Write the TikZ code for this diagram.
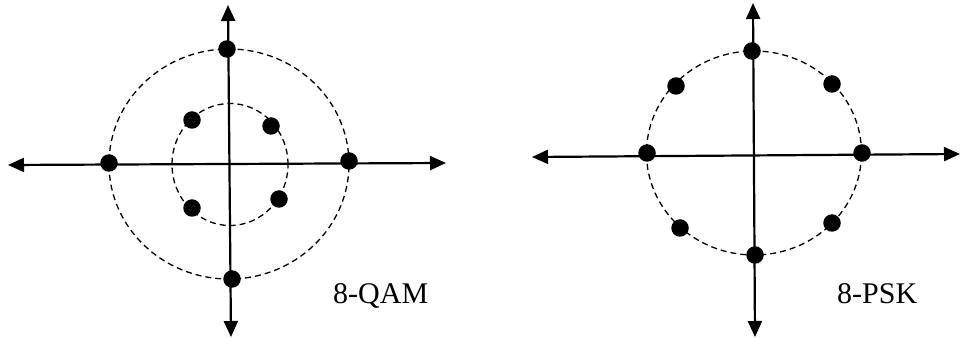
\documentclass[tikz,border=0pt]{standalone}
\usepackage{fontspec}
\setmainfont{Liberation Serif}
\usetikzlibrary{arrows.meta}
\tikzset{
  symbol/.style={circle,fill=black,draw=none,inner sep=0pt,minimum size=17.5bp},
  axis/.style={line width=2.2bp},
  ring/.style={line width=1.3bp,dash pattern=on 6bp off 4bp},
  tag/.style={anchor=base west,inner sep=0pt,font=\fontsize{30bp}{36bp}\selectfont},
}
\begin{document}
\begin{tikzpicture}[>={Triangle[length=16bp,width=14bp]},line join=bevel,]
        \useasboundingbox (0bp,0bp) rectangle (961bp,339bp);
        %% 8-QAM
        \coordinate (qam_top) at (228bp,334bp);
        \coordinate (qam_bot) at (231bp,2bp);
        \coordinate (qam_left) at (8bp,174bp);
        \coordinate (qam_right) at (446bp,176bp);
        \draw [ring] (229bp,175bp) ellipse [x radius=120bp,y radius=115bp];
        \draw [ring] (230bp,174.5bp) ellipse [x radius=58bp,y radius=61bp];
        \draw [axis,<->] (qam_bot) -- (qam_top);
        \draw [axis,<->] (qam_left) -- (qam_right);
        \node (qam_0) at (349bp,178bp) [symbol] {};
        \node (qam_1) at (227bp,290bp) [symbol] {};
        \node (qam_2) at (109bp,176bp) [symbol] {};
        \node (qam_3) at (232bp,60bp) [symbol] {};
        \node (qam_4) at (271bp,213bp) [symbol] {};
        \node (qam_5) at (192bp,219bp) [symbol] {};
        \node (qam_6) at (192bp,131bp) [symbol] {};
        \node (qam_7) at (279bp,140bp) [symbol] {};
        \node (qam_label) at (333bp,36bp) [tag] {8-QAM};
        %% 8-PSK
        \coordinate (psk_top) at (753bp,336bp);
        \coordinate (psk_bot) at (755bp,2bp);
        \coordinate (psk_left) at (532bp,182bp);
        \coordinate (psk_right) at (960bp,185bp);
        \draw [ring] (754bp,186bp) ellipse [x radius=107.5bp,y radius=102bp];
        \draw [axis,<->] (psk_bot) -- (psk_top);
        \draw [axis,<->] (psk_left) -- (psk_right);
        \node (psk_0) at (862bp,186bp) [symbol] {};
        \node (psk_1) at (832bp,255bp) [symbol] {};
        \node (psk_2) at (752bp,288bp) [symbol] {};
        \node (psk_3) at (676bp,253bp) [symbol] {};
        \node (psk_4) at (647bp,186bp) [symbol] {};
        \node (psk_5) at (680bp,111bp) [symbol] {};
        \node (psk_6) at (755bp,84bp) [symbol] {};
        \node (psk_7) at (832bp,116bp) [symbol] {};
        \node (psk_label) at (837bp,36bp) [tag] {8-PSK};
        %
\end{tikzpicture}
\end{document}
